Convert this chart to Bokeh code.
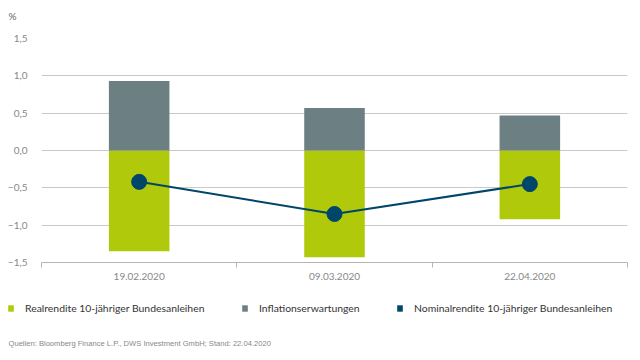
from bokeh.plotting import figure
from bokeh.models import (ColumnDataSource, FixedTicker, Legend, LegendItem, Label, Range1d)
from bokeh.embed import file_html
from bokeh.resources import INLINE

# ---- data ----
dates = ["19.02.2020", "09.03.2020", "22.04.2020"]
real_yield = [-1.35, -1.43, -0.92]        # Realrendite 10-jähriger Bundesanleihen
inflation_exp = [0.93, 0.57, 0.47]        # Inflationserwartungen
nominal_yield = [-0.42, -0.85, -0.45]     # Nominalrendite 10-jähriger Bundesanleihen
y_ticks = [-1.5, -1.0, -0.5, 0.0, 0.5, 1.0, 1.5]
y_tick_labels = ["−1,5", "−1,0", "−0,5", "0,0", "0,5", "1,0", "1,5"]
unit_label = "%"
legend_labels = ["Realrendite 10-jähriger Bundesanleihen", "Inflationserwartungen",
                 "Nominalrendite 10-jähriger Bundesanleihen"]
source_text = "Quellen: Bloomberg Finance L.P., DWS Investment GmbH; Stand: 22.04.2020"

GREEN = "#b0c90b"
GREY = "#6c7f83"
NAVY = "#00466b"
FONT = "Lato"
W = 632


def blank_panel(height):
    f = figure(width=W, height=height, output_backend="svg", toolbar_location=None,
               x_range=Range1d(0, W), y_range=Range1d(0, height),
               x_axis_location=None, y_axis_location=None,
               min_border_left=0, min_border_right=0, min_border_top=0, min_border_bottom=0)
    f.outline_line_color = None
    f.xgrid.grid_line_color = None
    f.ygrid.grid_line_color = None
    return f


# ---- top strip with unit label ----
t = blank_panel(24)
t.add_layout(Label(x=8, y=9, x_units="screen", y_units="screen", text=unit_label,
                   text_font=FONT, text_font_size="10px", text_color="#666666",
                   text_baseline="middle"))

# ---- main chart ----
x = list(range(len(dates)))
src = ColumnDataSource(dict(x=x, real=real_yield, infl=inflation_exp, nom=nominal_yield,
                            zero=[0] * len(x)))

p = figure(width=W, height=276, output_backend="svg", toolbar_location=None,
           x_range=Range1d(-0.5, len(dates) - 0.5), y_range=Range1d(-1.5, 1.5),
           min_border_left=41, min_border_right=5, min_border_top=14, min_border_bottom=38)
p.outline_line_color = None

p.vbar(x="x", top="zero", bottom="real", width=0.31, source=src,
       fill_color=GREEN, line_color=None)
p.vbar(x="x", top="infl", bottom="zero", width=0.31, source=src,
       fill_color=GREY, line_color=None)
p.line(x="x", y="nom", source=src, line_color=NAVY, line_width=2)
p.scatter(x="x", y="nom", source=src, size=15, fill_color=NAVY, line_color=NAVY)

p.xgrid.grid_line_color = None
p.ygrid.grid_line_color = "#c9c9c9"
p.ygrid.grid_line_width = 1
p.ygrid.ticker = FixedTicker(ticks=y_ticks)

ya = p.yaxis[0]
ya.ticker = FixedTicker(ticks=y_ticks)
ya.major_label_overrides = {tk: lb for tk, lb in zip(y_ticks, y_tick_labels)}
ya.axis_line_color = None
ya.major_tick_line_color = None
ya.major_tick_out = 0
ya.major_tick_in = 0
ya.minor_tick_line_color = None
ya.minor_tick_out = 0
ya.minor_tick_in = 0
ya.major_label_standoff = 14
ya.major_label_text_font = FONT
ya.major_label_text_font_size = "10px"
ya.major_label_text_color = "#888888"

xa = p.xaxis[0]
xa.ticker = FixedTicker(ticks=x, minor_ticks=[i - 0.5 for i in range(len(dates) + 1)])
xa.major_label_overrides = {i: d for i, d in zip(x, dates)}
xa.axis_line_color = "#b5b5b5"
xa.axis_line_width = 1
xa.major_tick_line_color = None
xa.major_tick_out = 0
xa.major_tick_in = 0
xa.minor_tick_line_color = "#b5b5b5"
xa.minor_tick_in = 0
xa.minor_tick_out = 5
xa.major_label_standoff = 5
xa.major_label_text_font = FONT
xa.major_label_text_font_size = "10px"
xa.major_label_text_color = "#888888"

# ---- legend / source strip ----
q = blank_panel(60)
swatch_colors = [GREEN, GREY, NAVY]
legend_x = [7, 241, 396]
for lx, lab, col in zip(legend_x, legend_labels, swatch_colors):
    # zero-height bar: only serves as the legend swatch
    r = q.vbar(x=[0], top=[0], width=1, fill_color=col, line_color=None)
    lg = Legend(items=[LegendItem(label=lab, renderers=[r])], location=(lx, 46),
                orientation="horizontal", glyph_width=7, glyph_height=8,
                label_height=8, label_standoff=11, padding=0, margin=0, spacing=0,
                border_line_color=None, background_fill_alpha=0,
                label_text_font=FONT, label_text_font_size="10.4px",
                label_text_color="#333333")
    q.add_layout(lg)

q.add_layout(Label(x=8, y=17, x_units="screen", y_units="screen", text=source_text,
                   text_font="Liberation Sans", text_font_size="7.6px",
                   text_color="#888888", text_baseline="middle"))

open("out.html", "w").write(file_html([t, p, q], INLINE))
